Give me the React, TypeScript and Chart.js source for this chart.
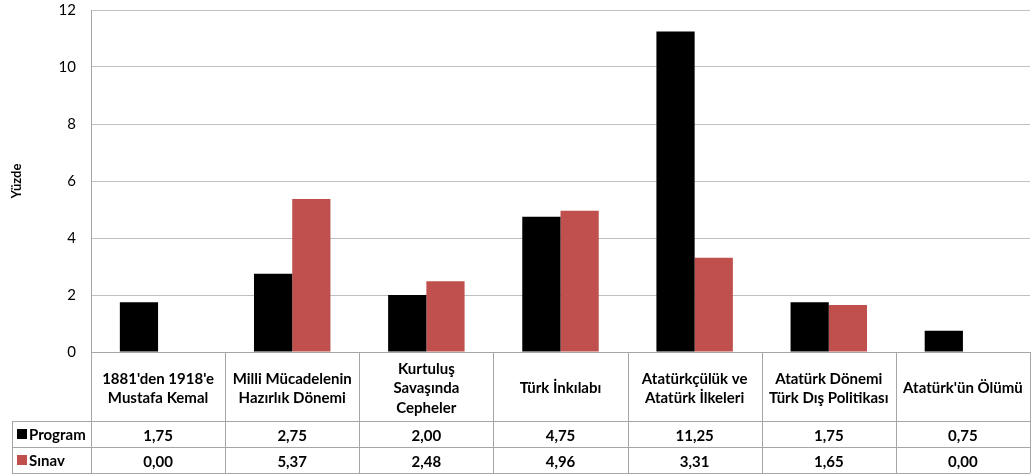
import React, { useEffect, useRef } from "react";
import { Chart, registerables } from "chart.js";

Chart.register(...registerables);

const categories: string[][] = [
  ["1881'den 1918'e", "Mustafa Kemal"],
  ["Milli Mücadelenin", "Hazırlık Dönemi"],
  ["Kurtuluş", "Savaşında", "Cepheler"],
  ["Türk İnkılabı"],
  ["Atatürkçülük ve", "Atatürk İlkeleri"],
  ["Atatürk Dönemi", "Türk Dış Politikası"],
  ["Atatürk'ün Ölümü"],
];
const programValues = [1.75, 2.75, 2.0, 4.75, 11.25, 1.75, 0.75];
const sinavValues = [0.0, 5.37, 2.48, 4.96, 3.31, 1.65, 0.0];
const seriesNames = ["Program", "Sınav"];
const seriesColors = ["#000000", "#c0504d"];
const yTitle = "Yüzde";

const FONT = "Lato, 'Open Sans', sans-serif";
const fmt = (v: number) => v.toFixed(2).replace(".", ",");

const tablePlugin = {
  id: "dataTable",
  afterDraw(chart: any) {
    const ctx = chart.ctx as CanvasRenderingContext2D;
    const area = chart.chartArea;
    const xs = chart.scales.x;
    const n = categories.length;
    const cw = (area.right - area.left) / n;
    const top = area.bottom;
    const catBottom = top + 69;
    const row1Bottom = catBottom + 26;
    const row2Bottom = row1Bottom + 26;
    const tableLeft = 12;
    ctx.save();
    ctx.strokeStyle = "#a6a6a6";
    ctx.lineWidth = 1;
    ctx.beginPath();
    const hl = (y: number, x0: number, x1: number) => {
      ctx.moveTo(x0, Math.round(y) + 0.5);
      ctx.lineTo(x1, Math.round(y) + 0.5);
    };
    hl(top, area.left, area.right);
    hl(catBottom, tableLeft, area.right);
    hl(row1Bottom, tableLeft, area.right);
    hl(row2Bottom, tableLeft, area.right);
    const vl = (x: number, y0: number, y1: number) => {
      ctx.moveTo(Math.round(x) + 0.5, y0);
      ctx.lineTo(Math.round(x) + 0.5, y1);
    };
    vl(tableLeft, catBottom, row2Bottom);
    for (let i = 0; i <= n; i++) {
      vl(area.left + i * cw, top, row2Bottom);
    }
    ctx.stroke();

    ctx.fillStyle = "#000";
    ctx.textAlign = "center";
    ctx.textBaseline = "middle";
    ctx.font = `bold 15px ${FONT}`;
    const lh = 19.5;
    for (let i = 0; i < n; i++) {
      const cx = xs.getPixelForValue(i);
      const lines = categories[i];
      const cy = (top + catBottom) / 2 + 2;
      lines.forEach((l, k) => {
        ctx.fillText(l, cx, cy + (k - (lines.length - 1) / 2) * lh);
      });
      ctx.fillText(fmt(programValues[i]), cx, (catBottom + row1Bottom) / 2 + 2);
      ctx.fillText(fmt(sinavValues[i]), cx, (row1Bottom + row2Bottom) / 2 + 2);
    }
    ctx.textAlign = "left";
    const rows = [(catBottom + row1Bottom) / 2, (row1Bottom + row2Bottom) / 2];
    rows.forEach((ry, k) => {
      ctx.fillStyle = seriesColors[k];
      ctx.fillRect(17, Math.round(ry) - 5, 10, 10);
      ctx.fillStyle = "#000";
      ctx.fillText(seriesNames[k], 29, ry + 1);
    });
    ctx.restore();
  },
};

export default function App() {
  const ref = useRef<HTMLCanvasElement | null>(null);
  useEffect(() => {
    if (!ref.current) return;
    const chart = new Chart(ref.current, {
      type: "bar",
      data: {
        labels: categories,
        datasets: [
          {
            label: seriesNames[0],
            data: programValues,
            backgroundColor: seriesColors[0],
            categoryPercentage: 0.57,
            barPercentage: 1.0,
          },
          {
            label: seriesNames[1],
            data: sinavValues,
            backgroundColor: seriesColors[1],
            categoryPercentage: 0.57,
            barPercentage: 1.0,
          },
        ],
      },
      options: {
        responsive: false,
        animation: false,
        layout: { padding: { top: 10, right: 6, bottom: 122, left: 0 } },
        plugins: {
          legend: { display: false },
          tooltip: { enabled: false },
        },
        scales: {
          x: {
            display: false,
            offset: true,
          },
          y: {
            min: 0,
            max: 12,
            ticks: {
              stepSize: 2,
              color: "#000",
              font: { family: FONT, size: 15 },
              padding: 15,
            },
            grid: { color: "#bfbfbf", drawTicks: false },
            border: { color: "#a6a6a6" },
            title: {
              display: true,
              text: yTitle,
              color: "#000",
              font: { family: FONT, size: 13, weight: "bold" },
              padding: { top: 9, bottom: 0 },
            },
            afterFit: (s: any) => {
              s.width = 91;
              s.paddingTop = 0;
              s.paddingBottom = 0;
            },
          },
        },
      },
      plugins: [tablePlugin],
    });
    return () => chart.destroy();
  }, []);
  return (
    <div style={{ position: "absolute", left: 0, top: 0, width: 1036, height: 474, background: "#fff" }}>
      <canvas ref={ref} width={1036} height={474} />
    </div>
  );
}
